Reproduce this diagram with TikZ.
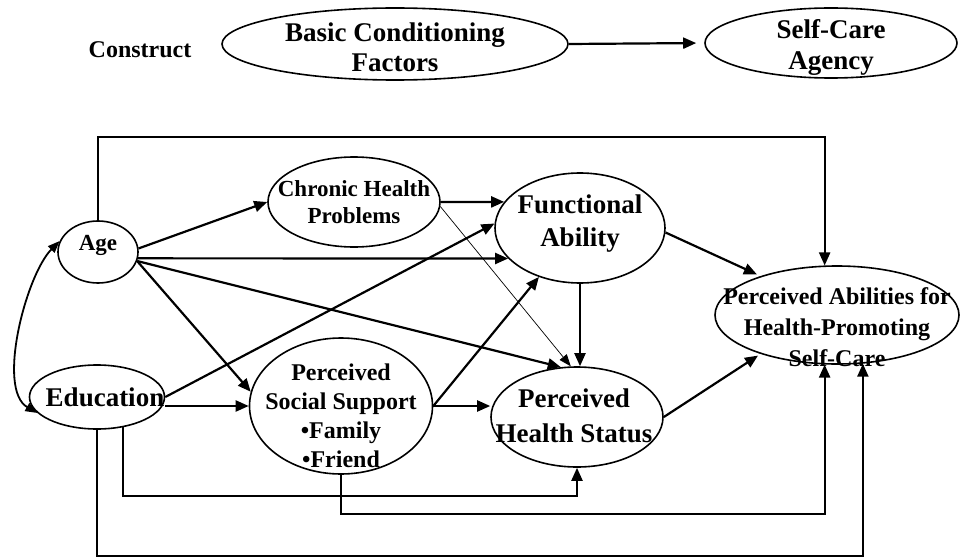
\documentclass[tikz,border=0pt]{standalone}
\usepackage{fontspec}
\setmainfont{Liberation Serif}
\usetikzlibrary{arrows.meta,shapes.geometric}

\newcommand{\sz}[2]{\fontsize{#1}{#2}\selectfont\bfseries}

\begin{document}
\begin{tikzpicture}[x=1pt,y=-1pt,
    oval/.style 2 args={ellipse,draw,line width=1.6pt,inner sep=0pt,
      minimum width=#1,minimum height=#2},
    lbl/.style={align=center,inner sep=0pt},
    arr/.style={line width=2.2pt,-{Triangle[length=13pt,width=11pt]}},
    thinarr/.style={line width=0.7pt,-{Triangle[length=12pt,width=9pt]}},
    dblarr/.style={line width=1.8pt,
      {Triangle[length=12pt,width=9pt]}-{Triangle[length=12pt,width=9pt]}}]
  \useasboundingbox (0,0) rectangle (960,559);

  \node (construct) at (140,50) [font=\sz{24}{28}] {Construct};
  \node [oval={346}{72},label={[lbl,font=\sz{27}{30},yshift=-3]center:{Basic Conditioning\\Factors}}] (bcf) at (395,44) {};
  \node [oval={252}{70},label={[lbl,font=\sz{27}{31},yshift=-4]center:{Self-Care\\Agency}}] (sca) at (831,43) {};

  \node [oval={80}{62},label={[lbl,font=\sz{23}{27},yshift=7]center:Age}] (age) at (98,252) {};
  \node [oval={135}{64},label={[lbl,font=\sz{27}{31},xshift=8]center:Education}] (edu) at (97,397) {};
  \node [oval={172}{90},label={[lbl,font=\sz{23}{27}]center:{Chronic Health\\Problems}}] (chp) at (354,202) {};
  \node [oval={183}{136},label={[lbl,font=\sz{24}{29},yshift=-10]center:{Perceived\\Social Support\\\textbullet Family\\\textbullet Friend}}] (pss) at (341,406) {};
  \node [oval={170}{110},label={[lbl,font=\sz{27}{33},yshift=4]center:{Functional\\Ability}}] (fa) at (580,228) {};
  \node [oval={172}{100},label={[lbl,font=\sz{27}{35},xshift=-3,yshift=1]center:{Perceived\\Health Status}}] (phs) at (577,417) {};
  \node [oval={244}{98},label={[lbl,font=\sz{24}{31},yshift=-12]center:{Perceived Abilities for\\Health-Promoting\\Self-Care}}] (pa) at (837,315) {};

  \coordinate (l0) at (0,137);
  \coordinate (l1) at (0,496);
  \coordinate (l2) at (0,514);
  \coordinate (l3) at (0,556);

  \draw[arr,shorten >=8pt] (bcf.east) -- (sca.west);

  \draw[arr] (age.north) |- (l0 -| pa.104) -- (pa.104);
  \draw[arr] (age.5) -- (chp.west);
  \draw[arr] (age.-9) -- (fa.203);
  \draw[arr] (age.-13) -- (pss.171);
  \draw[arr] (age.-13) -- (phs.108);
  \draw[dblarr] (age.164) to[out=225,in=150,looseness=0.7] (edu.195);

  \draw[arr] (chp.east) -- (fa.161);
  \draw[thinarr] (chp.-3) -- (phs.97);

  \draw[arr] (edu.east) -- (fa.177);
  \draw[arr] (edu.east |- pss.west) -- (pss.west);
  \draw[arr] (edu.-49) |- (l1 -| phs.south) -- (phs.south);
  \draw[arr] (edu.south) |- (l3 -| pa.-62) -- (pa.-62);

  \draw[arr] (pss.east) -- (fa.230);
  \draw[arr] (pss.east) -- (pss.east -| phs.west);
  \draw[arr] (pss.south) |- (l2 -| pa.-104) -- (pa.-104);

  \draw[arr] (fa.south) -- (fa.south |- phs.north);
  \draw[arr,shorten >=4pt] (fa.-3) -- (pa.153);
  \draw[arr,shorten >=3pt] (phs.east) -- (pa.207);
\end{tikzpicture}
\end{document}
